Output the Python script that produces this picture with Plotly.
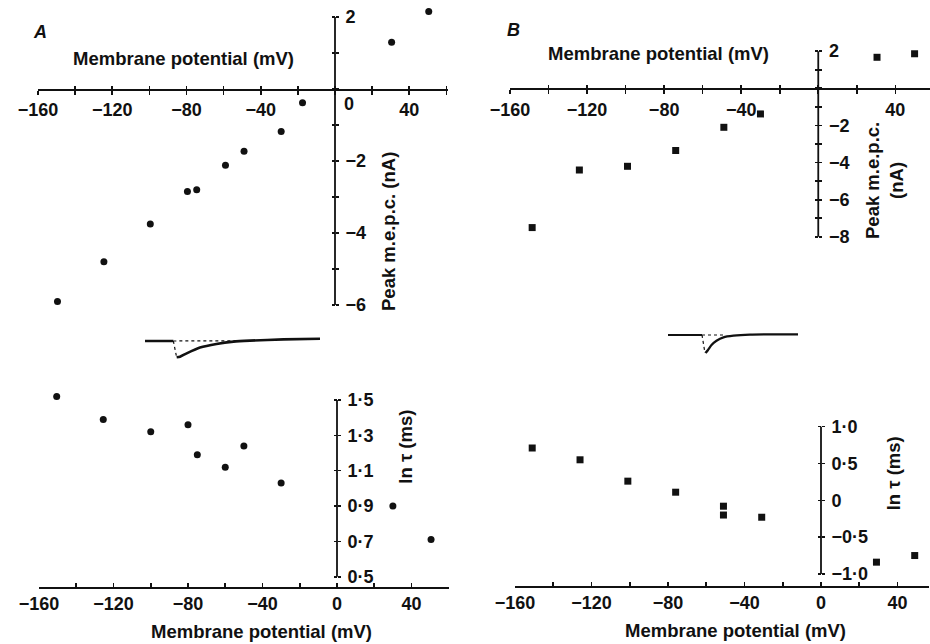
import plotly.graph_objects as go

W, H = 930, 644


def fx(px):
    return px / W


def fy(py):
    return 1 - py / H


# ---------------- data ----------------
# Panel A: peak m.e.p.c. vs membrane potential
A_peak_mV = [-149.5, -124.5, -99.5, -79.5, -74.5, -59, -49, -29, -17.5, 30.5, 50.5]
A_peak_nA = [-5.9, -4.8, -3.75, -2.85, -2.8, -2.12, -1.73, -1.18, -0.38, 1.3, 2.15]
# Panel A: ln tau vs membrane potential
A_tau_mV = [-150.5, -125.5, -100, -80, -75, -60, -50, -30, 30, 50.5]
A_lntau = [1.52, 1.39, 1.32, 1.36, 1.19, 1.12, 1.24, 1.03, 0.90, 0.71]
# Panel B: peak m.e.p.c.
B_peak_mV = [-148.5, -124, -99, -74, -49, -30, 30.5, 50]
B_peak_nA = [-7.5, -4.4, -4.2, -3.35, -2.1, -1.38, 1.67, 1.86]
# Panel B: ln tau
B_tau_mV = [-151, -126, -101, -76, -51, -51, -31, 29, 49]
B_lntau = [0.71, 0.55, 0.26, 0.11, -0.08, -0.2, -0.23, -0.84, -0.75]

# inset m.e.p.c. traces (time, normalised current)
A_base_t = [0, 5.67]
A_base_i = [0, 0]
A_jump_t = [5.67, 6.33]
A_jump_i = [0, -0.99]
A_dotbase_t = [5.67, 21]
A_dotbase_i = [0, 0.02]
A_decay_t = [6.33, 7, 8.33, 11, 14.3, 17.7, 21, 27.7, 35]
A_decay_i = [-0.99, -0.95, -0.75, -0.4, -0.18, -0.04, 0.02, 0.1, 0.14]

B_base_t = [0, 6.8]
B_base_i = [0, 0]
B_jump_t = [6.8, 7.4]
B_jump_i = [0, -1]
B_dotbase_t = [6.8, 11.4]
B_dotbase_i = [0, 0]
B_decay_t = [7.5, 8, 8.7, 9.7, 11.1, 13.1, 16.4, 26]
B_decay_i = [-1, -0.83, -0.56, -0.32, -0.13, -0.04, 0.02, 0.04]

# tick labels
X_TICKS = list(range(-160, 61, 20))
A_top_yvals = list(range(-6, 3))
A_top_ylabels = {2: "2", -2: "−2", -4: "−4", -6: "−6"}
B_top_yvals = list(range(-8, 3))
B_top_ylabels = {2: "2", -2: "−2", -4: "−4", -6: "−6", -8: "−8"}
A_bot_yvals = [0.5, 0.7, 0.9, 1.1, 1.3, 1.5]
A_bot_ytext = ["0·5", "0·7", "0·9", "1·1", "1·3", "1·5"]
B_bot_yvals = [-1.0, -0.5, 0, 0.5, 1.0]
B_bot_ytext = ["−1·0", "−0·5", "0", "0·5", "1·0"]

FONT = "Liberation Sans, Arial, sans-serif"
INK = "#111111"
TICKF = dict(family=FONT, size=18, color=INK, weight="bold")
TITLEF = dict(family=FONT, size=18.5, color=INK, weight="bold")


def xlabels(vals, shown):
    out = []
    for v in vals:
        if v in shown:
            out.append(("−" + str(-v)) if v < 0 else str(v))
        else:
            out.append("")
    return out


# ---------------- panel geometry (pixels) ----------------
panels = {
    "A_top": dict(x160=38, x0=335, xend=61, y_ref=0, py_ref=89, ppu=36.0,
                  yrange=[-6.3, 2.4], axis_py=89, yline=[-6, 2]),
    "B_top": dict(x160=510, x0=818.3, xend=58, y_ref=0, py_ref=88.3, ppu=18.57,
                  yrange=[-8.3, 2.3], axis_py=88.3, yline=[-8, 2]),
    "A_bot": dict(x160=39, x0=337, xend=60, y_ref=1.5, py_ref=400, ppu=176.7,
                  yrange=[0.45, 1.6], axis_py=586.7, yline=[0.5, 1.5]),
    "B_bot": dict(x160=515, x0=821, xend=56.5, y_ref=0, py_ref=500.3, ppu=73.65,
                  yrange=[-1.1, 1.1], axis_py=585.7, yline=[-1.0, 1.0]),
}


def geom(p):
    ppm = (p["x0"] - p["x160"]) / 160.0
    xdom = [fx(p["x160"]), min(1.0, fx(p["x0"] + p["xend"] * ppm))]
    xr = [-160, p["xend"]]
    lo, hi = p["yrange"]
    py_lo = p["py_ref"] + (p["y_ref"] - lo) * p["ppu"]
    py_hi = p["py_ref"] - (hi - p["y_ref"]) * p["ppu"]
    ydom = [fy(py_lo), fy(py_hi)]
    return dict(xdom=xdom, xr=xr, ydom=ydom, yr=[lo, hi], ypos=fx(p["x0"]), xpos=fy(p["axis_py"]))


G = {k: geom(v) for k, v in panels.items()}

fig = go.Figure()

mk_c = dict(symbol="circle", size=7, color=INK)
mk_s = dict(symbol="square", size=7, color=INK)

fig.add_trace(go.Scatter(x=A_peak_mV, y=A_peak_nA, mode="markers", marker=mk_c,
                         xaxis="x", yaxis="y", cliponaxis=False))
fig.add_trace(go.Scatter(x=B_peak_mV, y=B_peak_nA, mode="markers", marker=mk_s,
                         xaxis="x2", yaxis="y2", cliponaxis=False))
fig.add_trace(go.Scatter(x=A_tau_mV, y=A_lntau, mode="markers", marker=mk_c,
                         xaxis="x3", yaxis="y3", cliponaxis=False))
fig.add_trace(go.Scatter(x=B_tau_mV, y=B_lntau, mode="markers", marker=mk_s,
                         xaxis="x4", yaxis="y4", cliponaxis=False))

# inset traces
for ax, sets in (("5", [(A_base_t, A_base_i, "solid", 2.5), (A_dotbase_t, A_dotbase_i, "dot", 1.2),
                         (A_jump_t, A_jump_i, "dot", 1.2), (A_decay_t, A_decay_i, "solid", 2.6)]),
                 ("6", [(B_base_t, B_base_i, "solid", 2.2), (B_dotbase_t, B_dotbase_i, "dot", 1.2),
                         (B_jump_t, B_jump_i, "dot", 1.2), (B_decay_t, B_decay_i, "solid", 2.3)])):
    for t, i, dash, w in sets:
        fig.add_trace(go.Scatter(x=t, y=i, mode="lines", line=dict(color=INK, width=w, dash=dash,
                                                                      shape="spline", smoothing=0.6),
                                 xaxis="x" + ax, yaxis="y" + ax, cliponaxis=False))

# twin-axis dummy traces (for ticks crossing both sides)
for k in ("7", "8", "9", "10"):
    fig.add_trace(go.Scatter(x=[None], y=[None], xaxis="x" + k, yaxis="y" + k, showlegend=False))


def base_x(g, labels, ticks):
    return dict(domain=g["xdom"], range=g["xr"], anchor="free", position=g["xpos"], tickmode="array",
                tickvals=X_TICKS, ticktext=labels, ticks=ticks, ticklen=4, tickwidth=1.6,
                tickcolor=INK, showline=True, linecolor=INK, linewidth=1.8, showgrid=False,
                zeroline=False, tickfont=TICKF, side="bottom", fixedrange=True, automargin=False)


def base_y(g, vals, text):
    return dict(domain=g["ydom"], range=g["yr"], anchor="free", position=g["ypos"], tickmode="array",
                tickvals=vals, ticktext=text, ticks="outside", ticklen=3, tickwidth=1.6,
                ticklabelstandoff=3,
                tickcolor=INK, showline=False, showgrid=False,
                zeroline=False, tickfont=TICKF, side="right", fixedrange=True, automargin=False)


def twin_x(g, show):
    return dict(domain=g["xdom"], range=g["xr"], anchor="free", position=g["xpos"],
                tickmode="array", tickvals=X_TICKS if show else [],
                ticks="inside" if show else "", ticklen=3, tickwidth=1.6,
                tickcolor=INK, showticklabels=False, showline=False, showgrid=False,
                zeroline=False, fixedrange=True, automargin=False)


def twin_y(g, vals):
    return dict(domain=g["ydom"], range=g["yr"], anchor="free", position=g["ypos"],
                tickmode="array", tickvals=vals, ticks="inside", ticklen=3, tickwidth=1.6,
                tickcolor=INK, showticklabels=False, showline=False, showgrid=False,
                zeroline=False, side="right", fixedrange=True, automargin=False)


layout = dict(
    template="none",
    width=W, height=H, margin=dict(l=0, r=0, t=0, b=0, pad=0, autoexpand=False),
    paper_bgcolor="white", plot_bgcolor="rgba(0,0,0,0)", showlegend=False,
    font=dict(family=FONT, color=INK),
    xaxis=base_x(G["A_top"], xlabels(X_TICKS, [-160, -120, -80, -40, 40]), "outside"),
    yaxis=base_y(G["A_top"], A_top_yvals, [A_top_ylabels.get(v, "") for v in A_top_yvals]),
    xaxis2=base_x(G["B_top"], xlabels(X_TICKS, [-160, -120, -80, -40, 40]), "outside"),
    yaxis2=base_y(G["B_top"], B_top_yvals, [B_top_ylabels.get(v, "") for v in B_top_yvals]),
    xaxis3=base_x(G["A_bot"], xlabels(X_TICKS, [-160, -120, -80, -40, 0, 40]), "inside"),
    yaxis3=base_y(G["A_bot"], A_bot_yvals, A_bot_ytext),
    xaxis4=base_x(G["B_bot"], xlabels(X_TICKS, [-160, -120, -80, -40, 0, 40]), "inside"),
    yaxis4=base_y(G["B_bot"], B_bot_yvals, B_bot_ytext),
    xaxis7=twin_x(G["A_top"], True), yaxis7=twin_y(G["A_top"], A_top_yvals),
    xaxis8=twin_x(G["B_top"], True), yaxis8=twin_y(G["B_top"], B_top_yvals),
    xaxis9=twin_x(G["A_bot"], False), yaxis9=twin_y(G["A_bot"], A_bot_yvals),
    xaxis10=twin_x(G["B_bot"], False), yaxis10=twin_y(G["B_bot"], B_bot_yvals),
    # insets
    xaxis5=dict(domain=[fx(145), fx(320)], range=[0, 35], visible=False, anchor="y5", fixedrange=True),
    yaxis5=dict(domain=[fy(362), fy(334)], range=[-1.273, 0.424], visible=False, anchor="x5", fixedrange=True),
    xaxis6=dict(domain=[fx(668), fx(798)], range=[0, 26], visible=False, anchor="y6", fixedrange=True),
    yaxis6=dict(domain=[fy(358), fy(330)], range=[-1.278, 0.278], visible=False, anchor="x6", fixedrange=True),
)
fig.update_layout(**layout)

# vertical axis lines at 0 mV, spanning the labelled tick range
shapes = []
for (xr, yr), key in ((("x", "y"), "A_top"), (("x2", "y2"), "B_top"),
                      (("x3", "y3"), "A_bot"), (("x4", "y4"), "B_bot")):
    y0, y1 = panels[key]["yline"]
    shapes.append(dict(type="line", xref=xr, yref=yr, x0=0, x1=0, y0=y0, y1=y1,
                       line=dict(color=INK, width=1.8), layer="above"))
fig.update_layout(shapes=shapes)

# annotations (axis titles, panel letters)
ann = [
    dict(text="<i>A</i>", x=fx(40), y=fy(32), font=dict(family=FONT, size=18, color=INK, weight="bold")),
    dict(text="<i>B</i>", x=fx(513), y=fy(30), font=dict(family=FONT, size=18, color=INK, weight="bold")),
    dict(text="Membrane potential (mV)", x=fx(183), y=fy(58), font=TITLEF),
    dict(text="Membrane potential (mV)", x=fx(658), y=fy(54), font=TITLEF),
    dict(text="Membrane potential (mV)", x=fx(261), y=fy(631.5), font=TITLEF),
    dict(text="Membrane potential (mV)", x=fx(735), y=fy(630), font=TITLEF),
    dict(text="0", x=fx(348.5), y=fy(104), font=TICKF),
    dict(text="Peak m.e.p.c. (nA)", x=fx(388), y=fy(232), textangle=-90, font=TITLEF),
    dict(text="Peak m.e.p.c.<br>(nA)", x=fx(885), y=fy(181), textangle=-90, font=TITLEF),
    dict(text="ln τ (ms)", x=fx(406), y=fy(446.7), textangle=-90, font=TITLEF),
    dict(text="ln τ (ms)", x=fx(893.3), y=fy(473), textangle=-90, font=TITLEF),
]
for a in ann:
    a.update(xref="paper", yref="paper", showarrow=False, xanchor="center", yanchor="middle")
fig.update_layout(annotations=ann)

fig.write_html("out.html", config={"displayModeBar": False, "staticPlot": True},
               post_script="document.body.style.margin='0';document.body.style.overflow='hidden';")
